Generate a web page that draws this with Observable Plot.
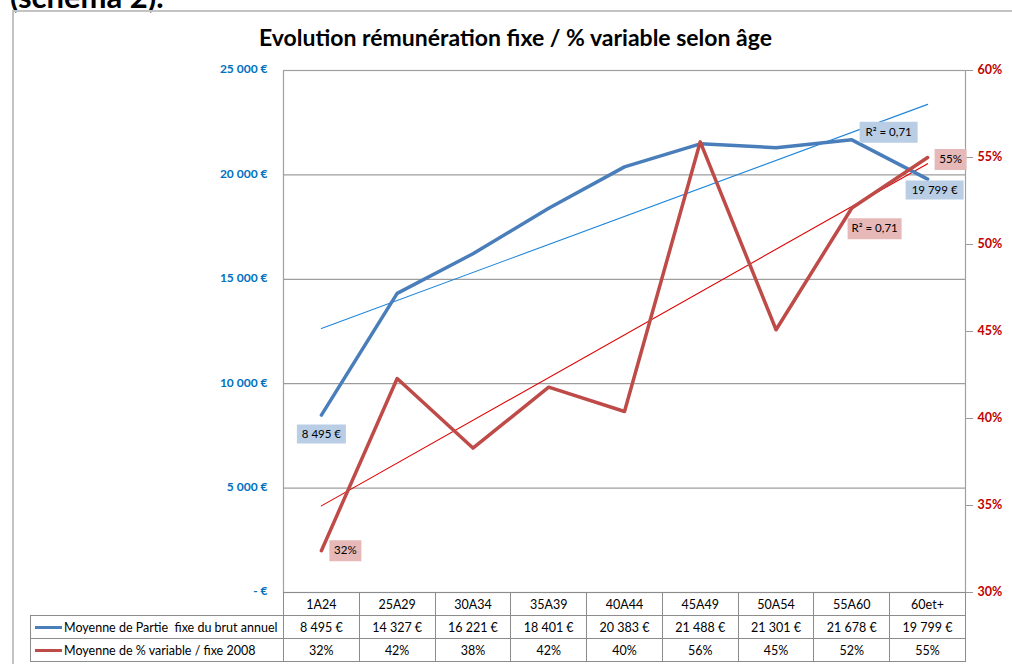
<!DOCTYPE html>
<html><head><meta charset="utf-8">
<script src="https://cdn.jsdelivr.net/npm/d3@7"></script>
<script src="https://cdn.jsdelivr.net/npm/@observablehq/plot@0.6"></script>
<style>
body{margin:0;background:#fff;font-family:Lato,"Open Sans",sans-serif;}
#wrap{position:relative;width:1012px;height:664px;overflow:hidden;background:#fff;}
#head{position:absolute;left:10px;top:-19px;font:bold 31px/31px Lato,sans-serif;color:#000;white-space:nowrap;}
#frame{position:absolute;left:12px;top:10px;width:1100px;height:800px;border:2px solid #c3c3c3;box-sizing:border-box;}
#title{position:absolute;left:0;top:23px;width:1031px;text-align:center;font:bold 23px Lato,sans-serif;color:#000;white-space:nowrap;}
#chart{position:absolute;left:0;top:0;}
#tbl{position:absolute;left:30px;top:592px;border-collapse:collapse;table-layout:fixed;font:12.5px Lato,sans-serif;color:#000;}
#tbl td{height:22px;padding:0;border:1px solid #8c8c8c;text-align:center;white-space:pre;overflow:hidden;}
#tbl td.blank{border:none;border-right:1px solid #8c8c8c;}
#tbl td.leg{text-align:left;padding-left:4px;}
.sw{display:inline-block;width:27px;height:3px;vertical-align:middle;margin-right:2px;position:relative;top:-1px;}
.plot-axis-left text{font-weight:bold;}
</style></head><body>
<div id="wrap">
  <div id="head">(schéma 2).</div>
  <div id="frame"></div>
  <div id="title">Evolution rémunération fixe / % variable selon âge</div>
  <div id="chart"></div>
  <table id="tbl"></table>
</div>
<script>
// ---- data ----
const categories = ["1A24","25A29","30A34","35A39","40A44","45A49","50A54","55A60","60et+"];
const fixe = [8495,14327,16221,18401,20383,21488,21301,21678,19799];
const variablePct = [32.4,42.3,38.3,41.8,40.4,55.9,45.1,52.1,55.0];
const seriesNames = ["Moyenne de Partie  fixe du brut annuel","Moyenne de % variable / fixe 2008"];
const leftTicks = [0,5000,10000,15000,20000,25000];
const rightTicks = [30,35,40,45,50,55,60];
const gridTicks = [5000,10000,15000,20000];

const BLUE = "#4A7EBB", RED = "#BE4B48";
const BLUE_TREND = "#1F86DB", RED_TREND = "#E00000";
const BLUE_BOX = "#B9CDE5", RED_BOX = "#E6B9B8";

const loc = d3.formatLocale({decimal:",", thousands:"\u00a0", grouping:[3], currency:["",""]});
const fmtInt = loc.format(",.0f");
const fmtEuro = v => fmtInt(v) + "\u00a0€";
const fmt2 = loc.format(".2f");

// secondary axis mapping (30%..60% onto 0..25000)
const pctToY = p => (p - 30) / 30 * 25000;
const yToPct = v => 30 + v / 25000 * 30;

const rows = categories.map((c, k) => ({i: k + 1, c, f: fixe[k], p: variablePct[k], py: pctToY(variablePct[k])}));

function fit(xs, ys) {
  const mx = d3.mean(xs), my = d3.mean(ys);
  const sxy = d3.sum(xs, (x, k) => (x - mx) * (ys[k] - my));
  const sxx = d3.sum(xs, x => (x - mx) ** 2);
  const slope = sxy / sxx, icpt = my - slope * mx;
  const sst = d3.sum(ys, y => (y - my) ** 2);
  const ssr = d3.sum(xs, x => (slope * x + icpt - my) ** 2);
  return {f: x => slope * x + icpt, r2: ssr / sst};
}
const xs = rows.map(d => d.i);
const fitB = fit(xs, rows.map(d => d.f));
const fitR = fit(xs, rows.map(d => d.py));
const lastI = rows.length;

const box = (w, h) => ({draw(ctx) { ctx.rect(-w / 2, -h / 2, w, h); }});

const first = rows.filter(d => d.i === 1);
const last = rows.filter(d => d.i === lastI);
const r2B = [{i: lastI, y: fitB.f(lastI), t: "R² = " + fmt2(fitB.r2)}];
const r2R = [{i: lastI, y: fitR.f(lastI), t: "R² = " + fmt2(fitR.r2)}];

const textOpts = {fill: "#000", fontSize: 11.5, fontFamily: "Lato, sans-serif"};

const chart = Plot.plot({
  width: 1012, height: 600,
  marginTop: 70, marginBottom: 8, marginLeft: 283, marginRight: 47,
  x: {type: "linear", domain: [0.5, categories.length + 0.5], axis: null},
  y: {domain: [0, 25000], axis: null},
  style: {fontFamily: "Lato, sans-serif", background: "transparent"},
  marks: [
    Plot.ruleY(gridTicks, {stroke: "#868686", strokeWidth: 1}),
    Plot.frame({stroke: "#a0a0a0", strokeWidth: 1.2}),
    Plot.axisY(leftTicks, {anchor: "left", tickSize: 0, tickPadding: 16,
      tickFormat: v => v === 0 ? "-\u00a0€" : fmtEuro(v),
      fill: "#0070C0", fontWeight: "bold", fontSize: 12, dy: -1}),
    Plot.axisY(rightTicks.map(pctToY), {anchor: "right", tickSize: 7, tickPadding: 0,
      tickFormat: () => "", stroke: "#999"}),
    Plot.axisY(rightTicks.map(pctToY), {anchor: "right", tickSize: 0, tickPadding: 12,
      tickFormat: v => Math.round(yToPct(v)) + "%",
      fill: "#C00000", fontWeight: "bold", fontSize: 12.5, dy: -1}),
    Plot.linearRegressionY(rows, {x: "i", y: "f", stroke: BLUE_TREND, strokeWidth: 1.1, ci: 0}),
    Plot.linearRegressionY(rows, {x: "i", y: "py", stroke: RED_TREND, strokeWidth: 1.1, ci: 0}),
    Plot.line(rows, {x: "i", y: "f", stroke: BLUE, strokeWidth: 3.5}),
    Plot.line(rows, {x: "i", y: "py", stroke: RED, strokeWidth: 3.5}),
    // data labels
    Plot.dot(first, {x: "i", y: "f", symbol: box(49, 19), fill: BLUE_BOX, stroke: "none", dy: 19}),
    Plot.text(first, {x: "i", y: "f", text: d => fmtEuro(d.f), dy: 19, ...textOpts}),
    Plot.dot(last, {x: "i", y: "f", symbol: box(58, 19), fill: BLUE_BOX, stroke: "none", dx: 7, dy: 11}),
    Plot.text(last, {x: "i", y: "f", text: d => fmtEuro(d.f), dx: 7, dy: 11, ...textOpts}),
    Plot.dot(r2B, {x: "i", y: "y", symbol: box(58, 21), fill: BLUE_BOX, stroke: "none", dx: -39, dy: 28}),
    Plot.text(r2B, {x: "i", y: "y", text: "t", dx: -39, dy: 28, ...textOpts}),
    Plot.dot(first, {x: "i", y: "py", symbol: box(32, 21), fill: RED_BOX, stroke: "none", dx: 24, dy: 0}),
    Plot.text(first, {x: "i", y: "py", text: d => Math.round(d.p) + "%", dx: 24, ...textOpts}),
    Plot.dot(last, {x: "i", y: "py", symbol: box(32, 21), fill: RED_BOX, stroke: "none", dx: 23, dy: 2}),
    Plot.text(last, {x: "i", y: "py", text: d => Math.round(d.p) + "%", dx: 23, dy: 2, ...textOpts}),
    Plot.dot(r2R, {x: "i", y: "y", symbol: box(54, 21), fill: RED_BOX, stroke: "none", dx: -53, dy: 65}),
    Plot.text(r2R, {x: "i", y: "y", text: "t", dx: -53, dy: 65, ...textOpts})
  ]
});
document.getElementById("chart").appendChild(chart);

// data table below the chart
const tbl = document.getElementById("tbl");
const colW = (965 - 283) / categories.length;
const cg = document.createElement("colgroup");
cg.innerHTML = `<col style="width:253px">` + categories.map(() => `<col style="width:${colW}px">`).join("");
tbl.appendChild(cg);
const tr0 = document.createElement("tr");
tr0.innerHTML = `<td class="blank"></td>` + categories.map(c => `<td>${c}</td>`).join("");
tbl.appendChild(tr0);
const tr1 = document.createElement("tr");
tr1.innerHTML = `<td class="leg"><span class="sw" style="background:${BLUE}"></span>${seriesNames[0]}</td>` + fixe.map(v => `<td>${fmtEuro(v)}</td>`).join("");
tbl.appendChild(tr1);
const tr2 = document.createElement("tr");
tr2.innerHTML = `<td class="leg"><span class="sw" style="background:${RED}"></span>${seriesNames[1]}</td>` + variablePct.map(v => `<td>${Math.round(v)}%</td>`).join("");
tbl.appendChild(tr2);
</script>
</body></html>
